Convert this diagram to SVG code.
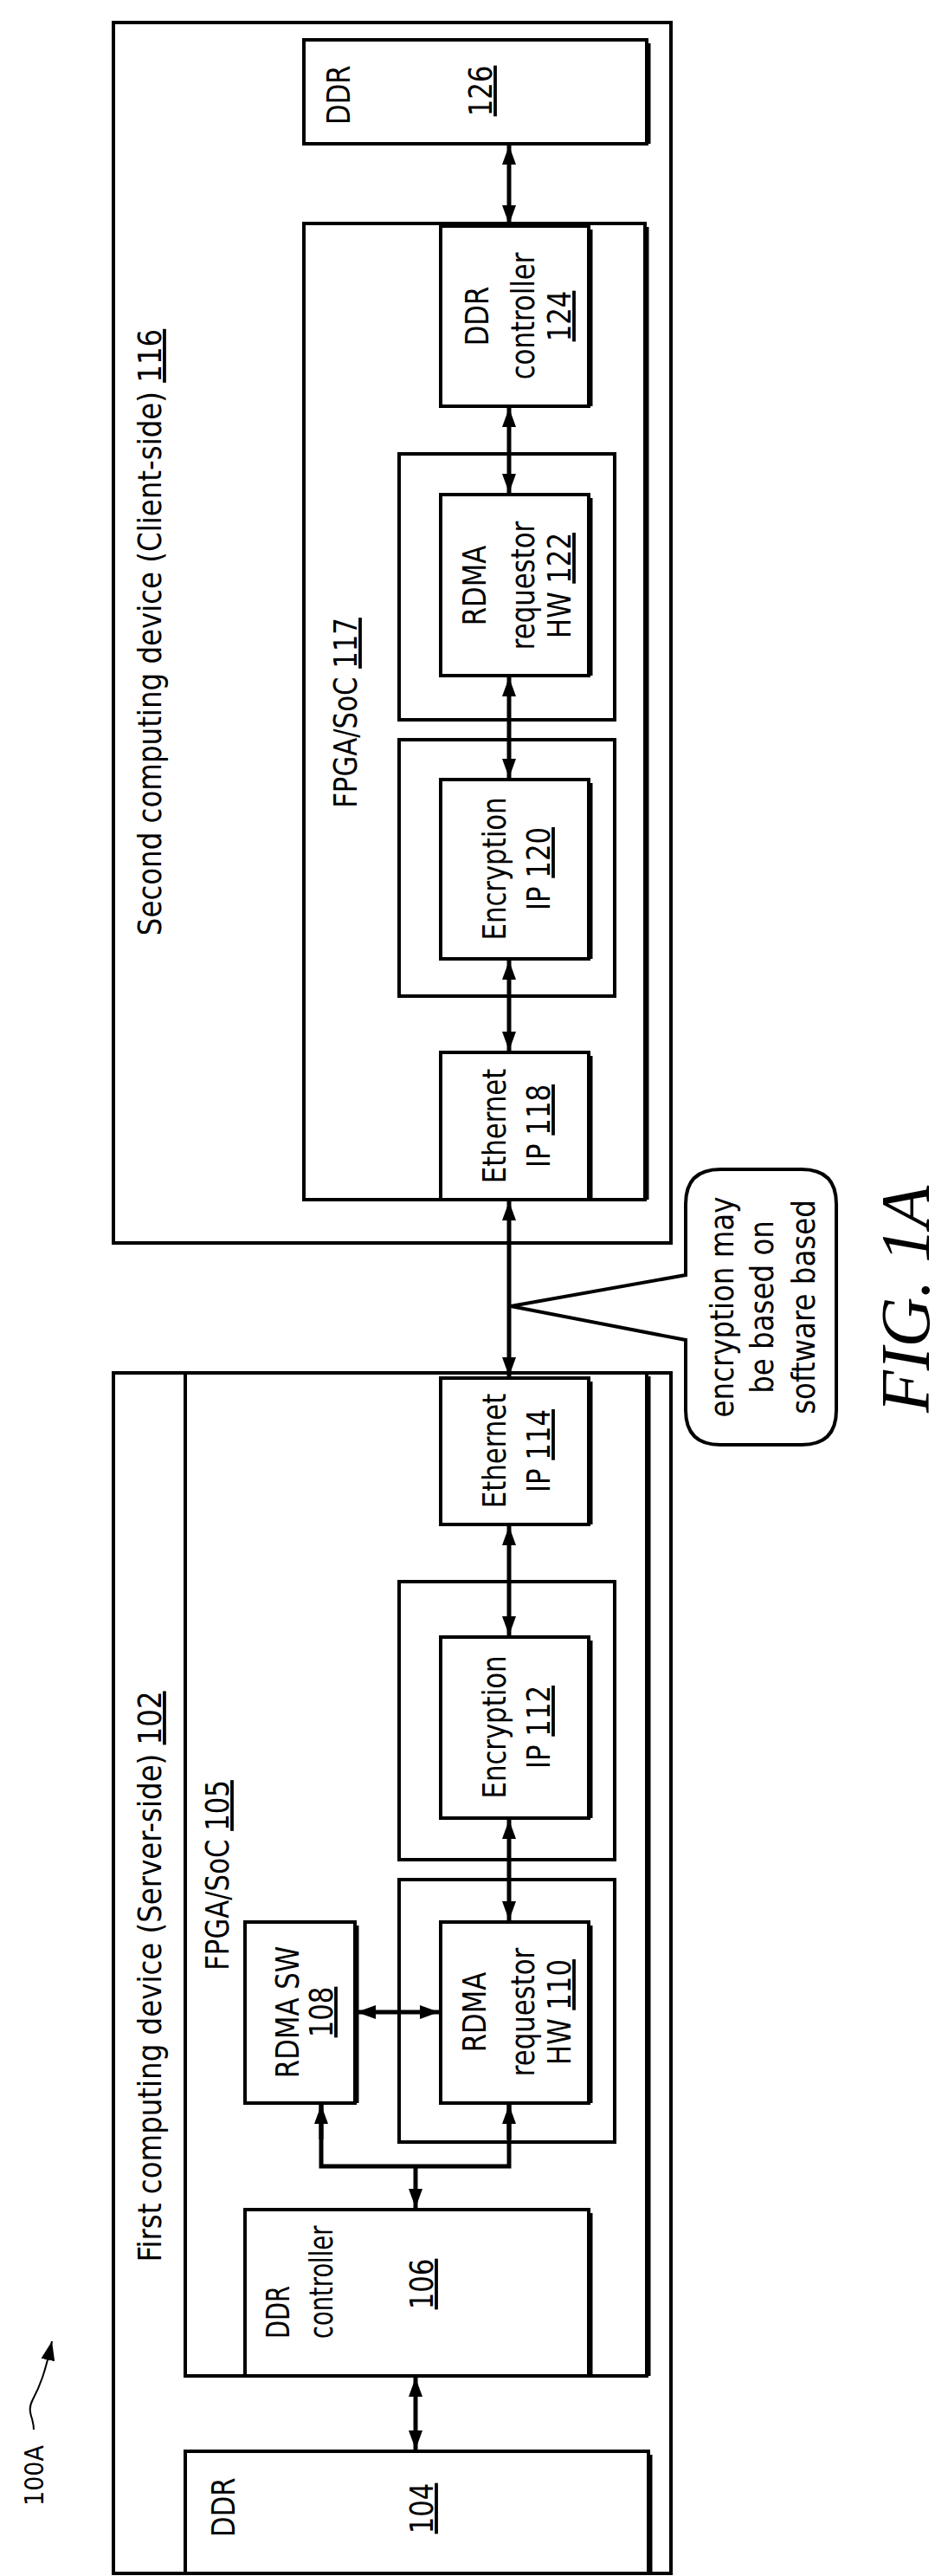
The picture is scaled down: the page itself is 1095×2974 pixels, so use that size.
<svg xmlns="http://www.w3.org/2000/svg" width="1095" height="2974" viewBox="0 0 1095 2974">
<style>
.b{fill:#fff;stroke:#000;stroke-width:4}
.s{stroke:#000;stroke-width:5}
.t{font-family:"DejaVu Sans Condensed","DejaVu Sans",sans-serif;font-size:38px;fill:#000}
.c{text-anchor:middle}
.u{text-decoration:underline}
.w{fill:none;stroke:#000;stroke-width:5}
</style>
<defs>
<marker id="a" markerUnits="userSpaceOnUse" markerWidth="24" markerHeight="16" refX="22" refY="8" orient="auto-start-reverse"><path d="M0,0 L22,8 L0,16 Z" fill="#000"/></marker>
</defs>
<g id="dev116">
<rect class="b" x="131" y="26" width="644" height="1409"/>
<text class="t c" transform="translate(186,730) rotate(-90) scale(0.95,1)">Second computing device (Client-side) <tspan class="u">116</tspan></text>
</g>
<g id="ddr126">
<rect class="b" x="351" y="46" width="396" height="120"/><line class="s" x1="749" y1="50" x2="749" y2="166"/>
<text class="t" transform="translate(404,144) rotate(-90) scale(0.9,1)">DDR</text>
<text class="t c" transform="translate(568,105) rotate(-90) scale(0.9,1)"><tspan class="u">126</tspan></text>
</g>
<g id="fpga117">
<rect class="b" x="351" y="258" width="394" height="1127"/><line class="s" x1="747" y1="262" x2="747" y2="1385"/>
<text class="t c" transform="translate(412,823) rotate(-90) scale(0.9,1)">FPGA/SoC <tspan class="u">117</tspan></text>
</g>
<g id="ctrl124">
<rect class="b" x="509" y="261" width="171" height="208"/><line class="s" x1="682" y1="265" x2="682" y2="469"/>
<text class="t c" transform="translate(564,365) rotate(-90) scale(0.9,1)">DDR</text>
<text class="t c" transform="translate(617,365) rotate(-90) scale(0.9,1)">controller</text>
<text class="t c" transform="translate(659,365) rotate(-90) scale(0.9,1)"><tspan class="u">124</tspan></text>
</g>
<g id="grp122"><rect class="b" x="461" y="524" width="249" height="307"/></g>
<g id="rdma122">
<rect class="b" x="509" y="571" width="171" height="209"/><line class="s" x1="682" y1="575" x2="682" y2="780"/>
<text class="t c" transform="translate(561,676) rotate(-90) scale(0.9,1)">RDMA</text>
<text class="t c" transform="translate(617,676) rotate(-90) scale(0.9,1)">requestor</text>
<text class="t c" transform="translate(659,676) rotate(-90) scale(0.9,1)">HW <tspan class="u">122</tspan></text>
</g>
<g id="grp120"><rect class="b" x="461" y="854" width="249" height="296"/></g>
<g id="enc120">
<rect class="b" x="509" y="900" width="171" height="207"/><line class="s" x1="682" y1="904" x2="682" y2="1107"/>
<text class="t c" transform="translate(584,1003) rotate(-90) scale(0.9,1)">Encryption</text>
<text class="t c" transform="translate(635,1003) rotate(-90) scale(0.9,1)">IP <tspan class="u">120</tspan></text>
</g>
<g id="eth118">
<rect class="b" x="509" y="1215" width="171" height="170"/><line class="s" x1="682" y1="1219" x2="682" y2="1385"/>
<text class="t c" transform="translate(584,1300) rotate(-90) scale(0.9,1)">Ethernet</text>
<text class="t c" transform="translate(635,1300) rotate(-90) scale(0.9,1)">IP <tspan class="u">118</tspan></text>
</g>
<g id="dev102">
<rect class="b" x="131" y="1585" width="644" height="1386"/>
<text class="t c" transform="translate(186,2282) rotate(-90) scale(0.95,1)">First computing device (Server-side) <tspan class="u">102</tspan></text>
</g>
<g id="fpga105">
<rect class="b" x="214" y="1585" width="533" height="1158"/><line class="s" x1="749" y1="1589" x2="749" y2="2743"/>
<text class="t c" transform="translate(264,2165) rotate(-90) scale(0.9,1)">FPGA/SoC <tspan class="u">105</tspan></text>
</g>
<g id="eth114">
<rect class="b" x="509" y="1591" width="171" height="169"/><line class="s" x1="682" y1="1595" x2="682" y2="1760"/>
<text class="t c" transform="translate(584,1675) rotate(-90) scale(0.9,1)">Ethernet</text>
<text class="t c" transform="translate(635,1675) rotate(-90) scale(0.9,1)">IP <tspan class="u">114</tspan></text>
</g>
<g id="grp112"><rect class="b" x="461" y="1826" width="249" height="321"/></g>
<g id="enc112">
<rect class="b" x="509" y="1890" width="171" height="209"/><line class="s" x1="682" y1="1894" x2="682" y2="2099"/>
<text class="t c" transform="translate(584,1994) rotate(-90) scale(0.9,1)">Encryption</text>
<text class="t c" transform="translate(635,1994) rotate(-90) scale(0.9,1)">IP <tspan class="u">112</tspan></text>
</g>
<g id="grp110"><rect class="b" x="461" y="2170" width="249" height="303"/></g>
<g id="rdma110">
<rect class="b" x="509" y="2219" width="171" height="209"/><line class="s" x1="682" y1="2223" x2="682" y2="2428"/>
<text class="t c" transform="translate(561,2323) rotate(-90) scale(0.9,1)">RDMA</text>
<text class="t c" transform="translate(617,2323) rotate(-90) scale(0.9,1)">requestor</text>
<text class="t c" transform="translate(659,2323) rotate(-90) scale(0.9,1)">HW <tspan class="u">110</tspan></text>
</g>
<g id="rdmasw108">
<rect class="b" x="283" y="2219" width="127" height="209"/><line class="s" x1="412" y1="2223" x2="412" y2="2428"/>
<text class="t c" transform="translate(345,2323) rotate(-90) scale(0.9,1)">RDMA SW</text>
<text class="t c" transform="translate(384,2323) rotate(-90) scale(0.9,1)"><tspan class="u">108</tspan></text>
</g>
<g id="ctrl106">
<rect class="b" x="283" y="2551" width="397" height="192"/><line class="s" x1="682" y1="2555" x2="682" y2="2743"/>
<text class="t" transform="translate(334,2700) rotate(-90) scale(0.8,1)">DDR</text>
<text class="t" transform="translate(384,2700) rotate(-90) scale(0.8,1)">controller</text>
<text class="t c" transform="translate(500,2637) rotate(-90) scale(0.9,1)"><tspan class="u">106</tspan></text>
</g>
<g id="ddr104">
<rect class="b" x="214" y="2830" width="535" height="141"/><line class="s" x1="751" y1="2834" x2="751" y2="2971"/>
<text class="t" transform="translate(271,2929) rotate(-90) scale(0.9,1)">DDR</text>
<text class="t c" transform="translate(500,2896) rotate(-90) scale(0.9,1)"><tspan class="u">104</tspan></text>
</g>
<g id="callout">
<path d="M792,1390 Q792,1350 832,1350 L926,1350 Q966,1350 966,1390 L966,1628 Q966,1668 926,1668 L832,1668 Q792,1668 792,1628 L792,1547 L590,1508 L792,1472 Z" fill="#fff" stroke="#000" stroke-width="4"/>
<text class="t c" transform="translate(847,1509) rotate(-90) scale(0.95,1)">encryption may</text>
<text class="t c" transform="translate(893,1509) rotate(-90) scale(0.95,1)">be based on</text>
<text class="t c" transform="translate(941,1509) rotate(-90) scale(0.95,1)">software based</text>
</g>
<g id="label100A">
<text class="t c" style="font-size:30px" transform="translate(50,2858) rotate(-90)">100A</text>
<path d="M39,2805 C39,2790 30,2785 38,2770 C46,2755 52,2740 60,2703" fill="none" stroke="#000" stroke-width="2" marker-end="url(#a)"/>
</g>
<g id="fig">
<text transform="translate(1073,1500) rotate(-90)" text-anchor="middle" style="font-family:'Liberation Serif',serif;font-style:italic;font-size:80px">FIG. 1A</text>
</g>
<g id="connectors">
<line class="w" x1="588" y1="168" x2="588" y2="259" marker-start="url(#a)" marker-end="url(#a)"/>
<line class="w" x1="588" y1="471" x2="588" y2="569" marker-start="url(#a)" marker-end="url(#a)"/>
<line class="w" x1="588" y1="782" x2="588" y2="898" marker-start="url(#a)" marker-end="url(#a)"/>
<line class="w" x1="588" y1="1109" x2="588" y2="1213" marker-start="url(#a)" marker-end="url(#a)"/>
<line class="w" x1="588" y1="1387" x2="588" y2="1589" marker-start="url(#a)" marker-end="url(#a)"/>
<line class="w" x1="588" y1="1762" x2="588" y2="1888" marker-start="url(#a)" marker-end="url(#a)"/>
<line class="w" x1="588" y1="2101" x2="588" y2="2217" marker-start="url(#a)" marker-end="url(#a)"/>
<line class="w" x1="412" y1="2323" x2="507" y2="2323" marker-start="url(#a)" marker-end="url(#a)"/>
<polyline class="w" points="371,2430 371,2501 588,2501 588,2430"/>
<line class="w" x1="371" y1="2470" x2="371" y2="2430" marker-end="url(#a)"/>
<line class="w" x1="588" y1="2470" x2="588" y2="2430" marker-end="url(#a)"/>
<line class="w" x1="480" y1="2501" x2="480" y2="2549" marker-end="url(#a)"/>
<line class="w" x1="480" y1="2745" x2="480" y2="2828" marker-start="url(#a)" marker-end="url(#a)"/>
</g>
</svg>
